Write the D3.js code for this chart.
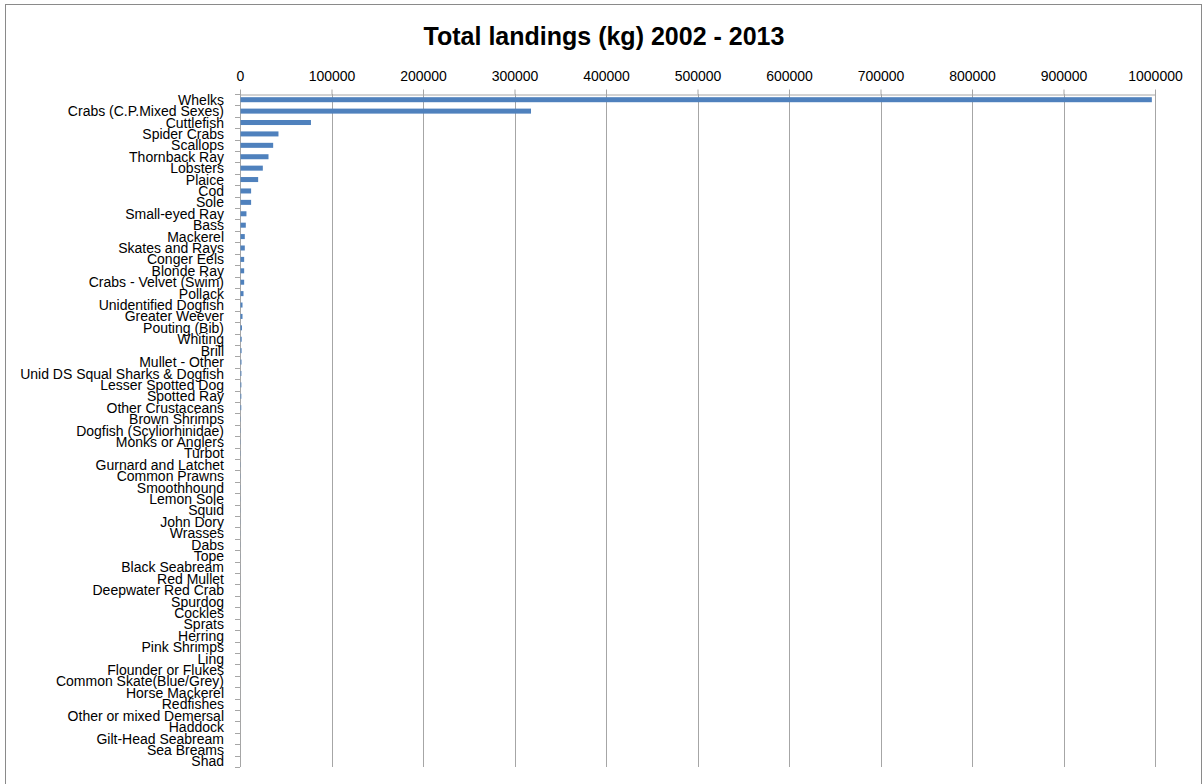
<!DOCTYPE html>
<html><head><meta charset="utf-8">
<script src="https://cdn.jsdelivr.net/npm/d3@7"></script>
<style>html,body{margin:0;padding:0;background:#fff;overflow:hidden}</style>
</head><body>
<svg id="c" width="1203" height="784"></svg>
<script>
const categories = ["Whelks","Crabs (C.P.Mixed Sexes)","Cuttlefish","Spider Crabs","Scallops","Thornback Ray","Lobsters","Plaice","Cod","Sole","Small-eyed Ray","Bass","Mackerel","Skates and Rays","Conger Eels","Blonde Ray","Crabs - Velvet (Swim)","Pollack","Unidentified Dogfish","Greater Weever","Pouting (Bib)","Whiting","Brill","Mullet - Other","Unid DS Squal Sharks & Dogfish","Lesser Spotted Dog","Spotted Ray","Other Crustaceans","Brown Shrimps","Dogfish (Scyliorhinidae)","Monks or Anglers","Turbot","Gurnard and Latchet","Common Prawns","Smoothhound","Lemon Sole","Squid","John Dory","Wrasses","Dabs","Tope","Black Seabream","Red Mullet","Deepwater Red Crab","Spurdog","Cockles","Sprats","Herring","Pink Shrimps","Ling","Flounder or Flukes","Common Skate(Blue/Grey)","Horse Mackerel","Redfishes","Other or mixed Demersal","Haddock","Gilt-Head Seabream","Sea Breams","Shad"];
const landings = [996000,317500,77000,41500,35700,30600,24400,19300,11600,11600,6500,5800,4700,4700,4000,4000,4000,3300,2200,2200,1600,1300,1200,1100,1000,950,900,850,300,280,260,240,220,200,180,160,150,140,120,110,100,90,80,70,60,55,50,45,40,35,30,25,20,18,15,12,10,8,5];
const xTicks = [0,100000,200000,300000,400000,500000,600000,700000,800000,900000,1000000];
const title = "Total landings (kg) 2002 - 2013";

const svg = d3.select("#c");
const m = {left:240, right:1155, top:94, bottom:767};
const x = d3.scaleLinear().domain([0,1000000]).range([m.left,m.right]);
const y = d3.scaleBand().domain(categories).range([m.top,m.bottom]).paddingInner(0.56).paddingOuter(0.28);
const band = d3.scaleBand().domain(categories).range([m.top,m.bottom]);

svg.append("rect").attr("x",5.5).attr("y",4.5).attr("width",1196).attr("height",800)
  .attr("fill","#fff").attr("stroke","#8a8a8a").attr("stroke-width",1);

svg.append("text").attr("x",604).attr("y",45).attr("text-anchor","middle")
  .attr("font-family","Liberation Sans, Arial, sans-serif").attr("font-weight","bold")
  .attr("font-size",25).attr("fill","#000").text(title);

// gridlines
svg.append("g").selectAll("line").data(xTicks.slice(1)).join("line")
  .attr("x1",d=>Math.round(x(d))+0.5).attr("x2",d=>Math.round(x(d))+0.5)
  .attr("y1",m.top).attr("y2",m.bottom).attr("stroke","#a6a6a6").attr("stroke-width",1);

// top axis
const xa = svg.append("g").attr("transform",`translate(0,${m.top+0.5})`)
  .call(d3.axisTop(x).tickValues(xTicks).tickFormat(d3.format("d")).tickSize(5).tickSizeOuter(0));
xa.select(".domain").attr("stroke","#a6a6a6");
xa.selectAll(".tick line").attr("stroke","#a6a6a6");
xa.selectAll(".tick text").attr("font-family","Liberation Sans, Arial, sans-serif")
  .attr("font-size",14).attr("fill","#000").attr("y",-14).attr("dy",0);

// left axis line and ticks at band boundaries
const la = svg.append("g");
la.append("line").attr("x1",m.left+0.5).attr("x2",m.left+0.5).attr("y1",m.top).attr("y2",m.bottom)
  .attr("stroke","#a6a6a6");
const bounds = categories.map(c=>band(c)).concat([m.bottom]);
la.selectAll("line.t").data(bounds).join("line").attr("class","t")
  .attr("x1",m.left-5).attr("x2",m.left)
  .attr("y1",d=>Math.round(d)+0.5).attr("y2",d=>Math.round(d)+0.5).attr("stroke","#a6a6a6");

la.selectAll("text").data(categories).join("text")
  .attr("x",224).attr("y",d=>band(d)+band.bandwidth()/2).attr("dy","0.36em")
  .attr("text-anchor","end").attr("font-family","Liberation Sans, Arial, sans-serif")
  .attr("font-size",14).attr("fill","#000").text(d=>d);

// bars
svg.append("g").selectAll("rect").data(categories).join("rect")
  .attr("x",x(0)+0.5).attr("y",d=>y(d)).attr("height",y.bandwidth())
  .attr("width",(d,i)=>Math.max(0,x(landings[i])-x(0)))
  .attr("fill","#4f81bd");
</script>
</body></html>
